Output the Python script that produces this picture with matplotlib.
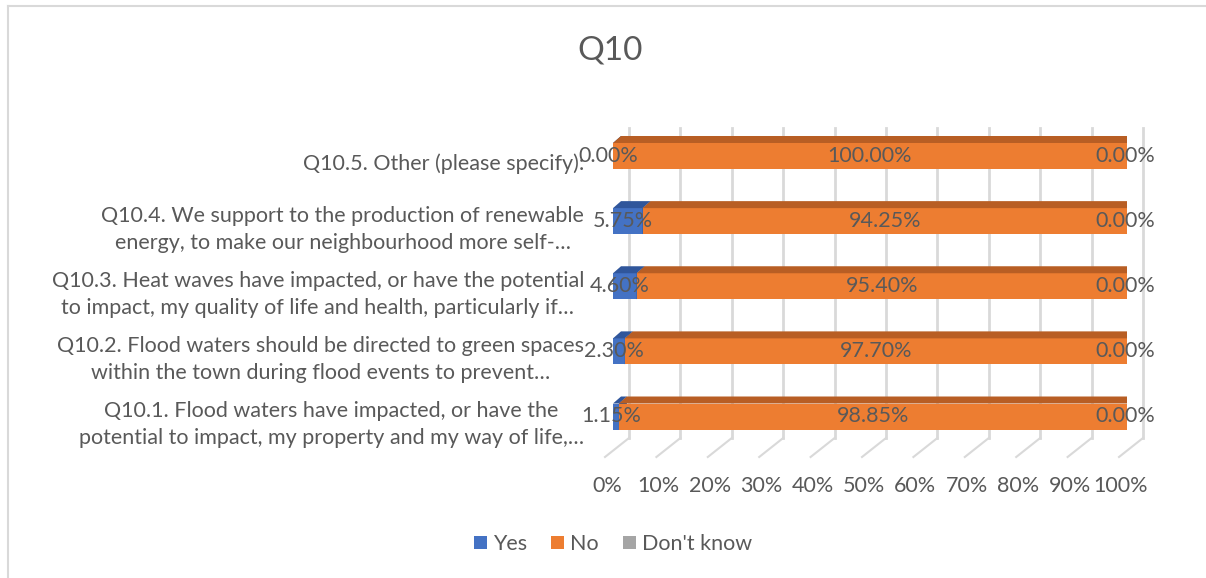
import matplotlib
matplotlib.use("Agg")
import matplotlib.pyplot as plt
from matplotlib.patches import Polygon, Patch
from matplotlib.lines import Line2D

plt.rcParams['font.family'] = ['Lato', 'DejaVu Sans']

# ---------------- data ----------------
title = "Q10"
categories = [
    "Q10.1. Flood waters have impacted, or have the\npotential to impact, my property and my way of life,…",
    "Q10.2. Flood waters should be directed to green spaces\nwithin the town during flood events to prevent…",
    "Q10.3. Heat waves have impacted, or have the potential\nto impact, my quality of life and health, particularly if…",
    "Q10.4. We support to the production of renewable\nenergy, to make our neighbourhood more self-…",
    "Q10.5. Other (please specify):",
]
series_names = ["Yes", "No", "Don't know"]
yes_vals = [1.15, 2.30, 4.60, 5.75, 0.00]
no_vals = [98.85, 97.70, 95.40, 94.25, 100.00]
dk_vals = [0.00, 0.00, 0.00, 0.00, 0.00]
tick_vals = [0, 10, 20, 30, 40, 50, 60, 70, 80, 90, 100]
tick_labels = ["0%", "10%", "20%", "30%", "40%", "50%", "60%", "70%", "80%", "90%", "100%"]

# ---------------- style ----------------
front_cols = ["#4472C4", "#ED7D31", "#A5A5A5"]
top_cols = ["#30569B", "#B85E24", "#7F7F7F"]
side_cols = ["#2F5597", "#A95521", "#737373"]
txt = "#595959"
grid_col = "#D9D9D9"

W, H, DPI = 1206, 578, 100
fig = plt.figure(figsize=(W / DPI, H / DPI), dpi=DPI)
fig.patch.set_facecolor("white")

# axes: x 0..100 -> px 613..1127 ; y centers 416.5 (idx0) .. 156 (idx4)
x0px, x1px = 613, 1127
yb_px = 416.5 + 0.5 * 65.125
yt_px = 156 - 0.5 * 65.125
ax = fig.add_axes([x0px / W, (H - yb_px) / H, (x1px - x0px) / W, (yb_px - yt_px) / H])
ax.set_xlim(0, 100)
ax.set_ylim(-0.5, 4.5)
ax.axis("off")

sx = (x1px - x0px) / 100.0       # px per x unit
sy = 65.125                      # px per y unit
def dxp(px):
    return px / sx
def dyp(px):
    return px / sy

bar_h = dyp(26)
ddx, ddy = dxp(8), dyp(7)       # bar depth offset

# back wall gridlines and floor lines
g_top = dyp(416.5 - 128)
g_bot = -dyp(438 - 416.5)
f_bot = -dyp(457 - 416.5)
for v in tick_vals:
    xb = v + dxp(16)
    ax.plot([xb, xb], [g_bot, g_top], color=grid_col, lw=2, clip_on=False, zorder=1)
    ax.plot([xb, v - dxp(8)], [g_bot, f_bot], color=grid_col, lw=1.5, clip_on=False, zorder=1)

# bars with 3D faces
ypos = list(range(len(categories)))
all_vals = [yes_vals, no_vals, dk_vals]
for i, y in enumerate(ypos):
    left = 0.0
    top = y + bar_h / 2
    bot = y - bar_h / 2
    for s, vals in enumerate(all_vals):
        w = vals[i]
        ax.barh(y, w, left=left, height=bar_h, color=front_cols[s], zorder=3)
        r = left + w
        ax.add_patch(Polygon([(left, top), (r, top), (r + ddx, top + ddy), (left + ddx, top + ddy)],
                             closed=True, facecolor=top_cols[s], edgecolor="none", zorder=3))
        ax.add_patch(Polygon([(r, bot), (r, top), (r + ddx, top + ddy), (r + ddx, bot + ddy)],
                             closed=True, facecolor=side_cols[s], edgecolor="none", zorder=3))
        left = r

# data labels
lab_off = [dxp(-5), 0.0, dxp(-2)]
fs = 15.5
for i, y in enumerate(ypos):
    left = 0.0
    for s, vals in enumerate(all_vals):
        w = vals[i]
        ax.text(left + w / 2 + lab_off[s], y, f"{w:.2f}%", ha="center", va="center",
                fontsize=fs, color=txt, zorder=5)
        left += w

# category labels
for i, y in enumerate(ypos):
    ax.text(-dxp(x0px - 584), y - dyp(8), categories[i], ha="right", va="center",
            multialignment="center", fontsize=fs, color=txt, linespacing=1.45, clip_on=False)

# tick labels (front floor edge)
for v, lab in zip(tick_vals, tick_labels):
    ax.text(v - dxp(6), -0.5 - dyp(486 - yb_px), lab, ha="center", va="center",
            fontsize=fs, color=txt, clip_on=False)

# title
fig.text(610 / W, 1 - 50 / H, title, ha="center", va="center", fontsize=24, color=txt)

# legend
handles = [Patch(facecolor=c, edgecolor="none") for c in front_cols]
fig.legend(handles, series_names, loc="center", bbox_to_anchor=(613 / W, 1 - 544 / H),
           ncol=3, frameon=False, fontsize=fs, labelcolor=txt, handlelength=0.6,
           handleheight=0.6, handletextpad=0.3, columnspacing=1.1)

# chart border (left and top visible)
fig.add_artist(Line2D([8 / W, 8 / W], [0, 1 - 6 / H], color="#D9D9D9", lw=1.5))
fig.add_artist(Line2D([8 / W, 1], [1 - 6 / H, 1 - 6 / H], color="#D9D9D9", lw=1.5))

fig.savefig("out.png", dpi=DPI, facecolor="white")
